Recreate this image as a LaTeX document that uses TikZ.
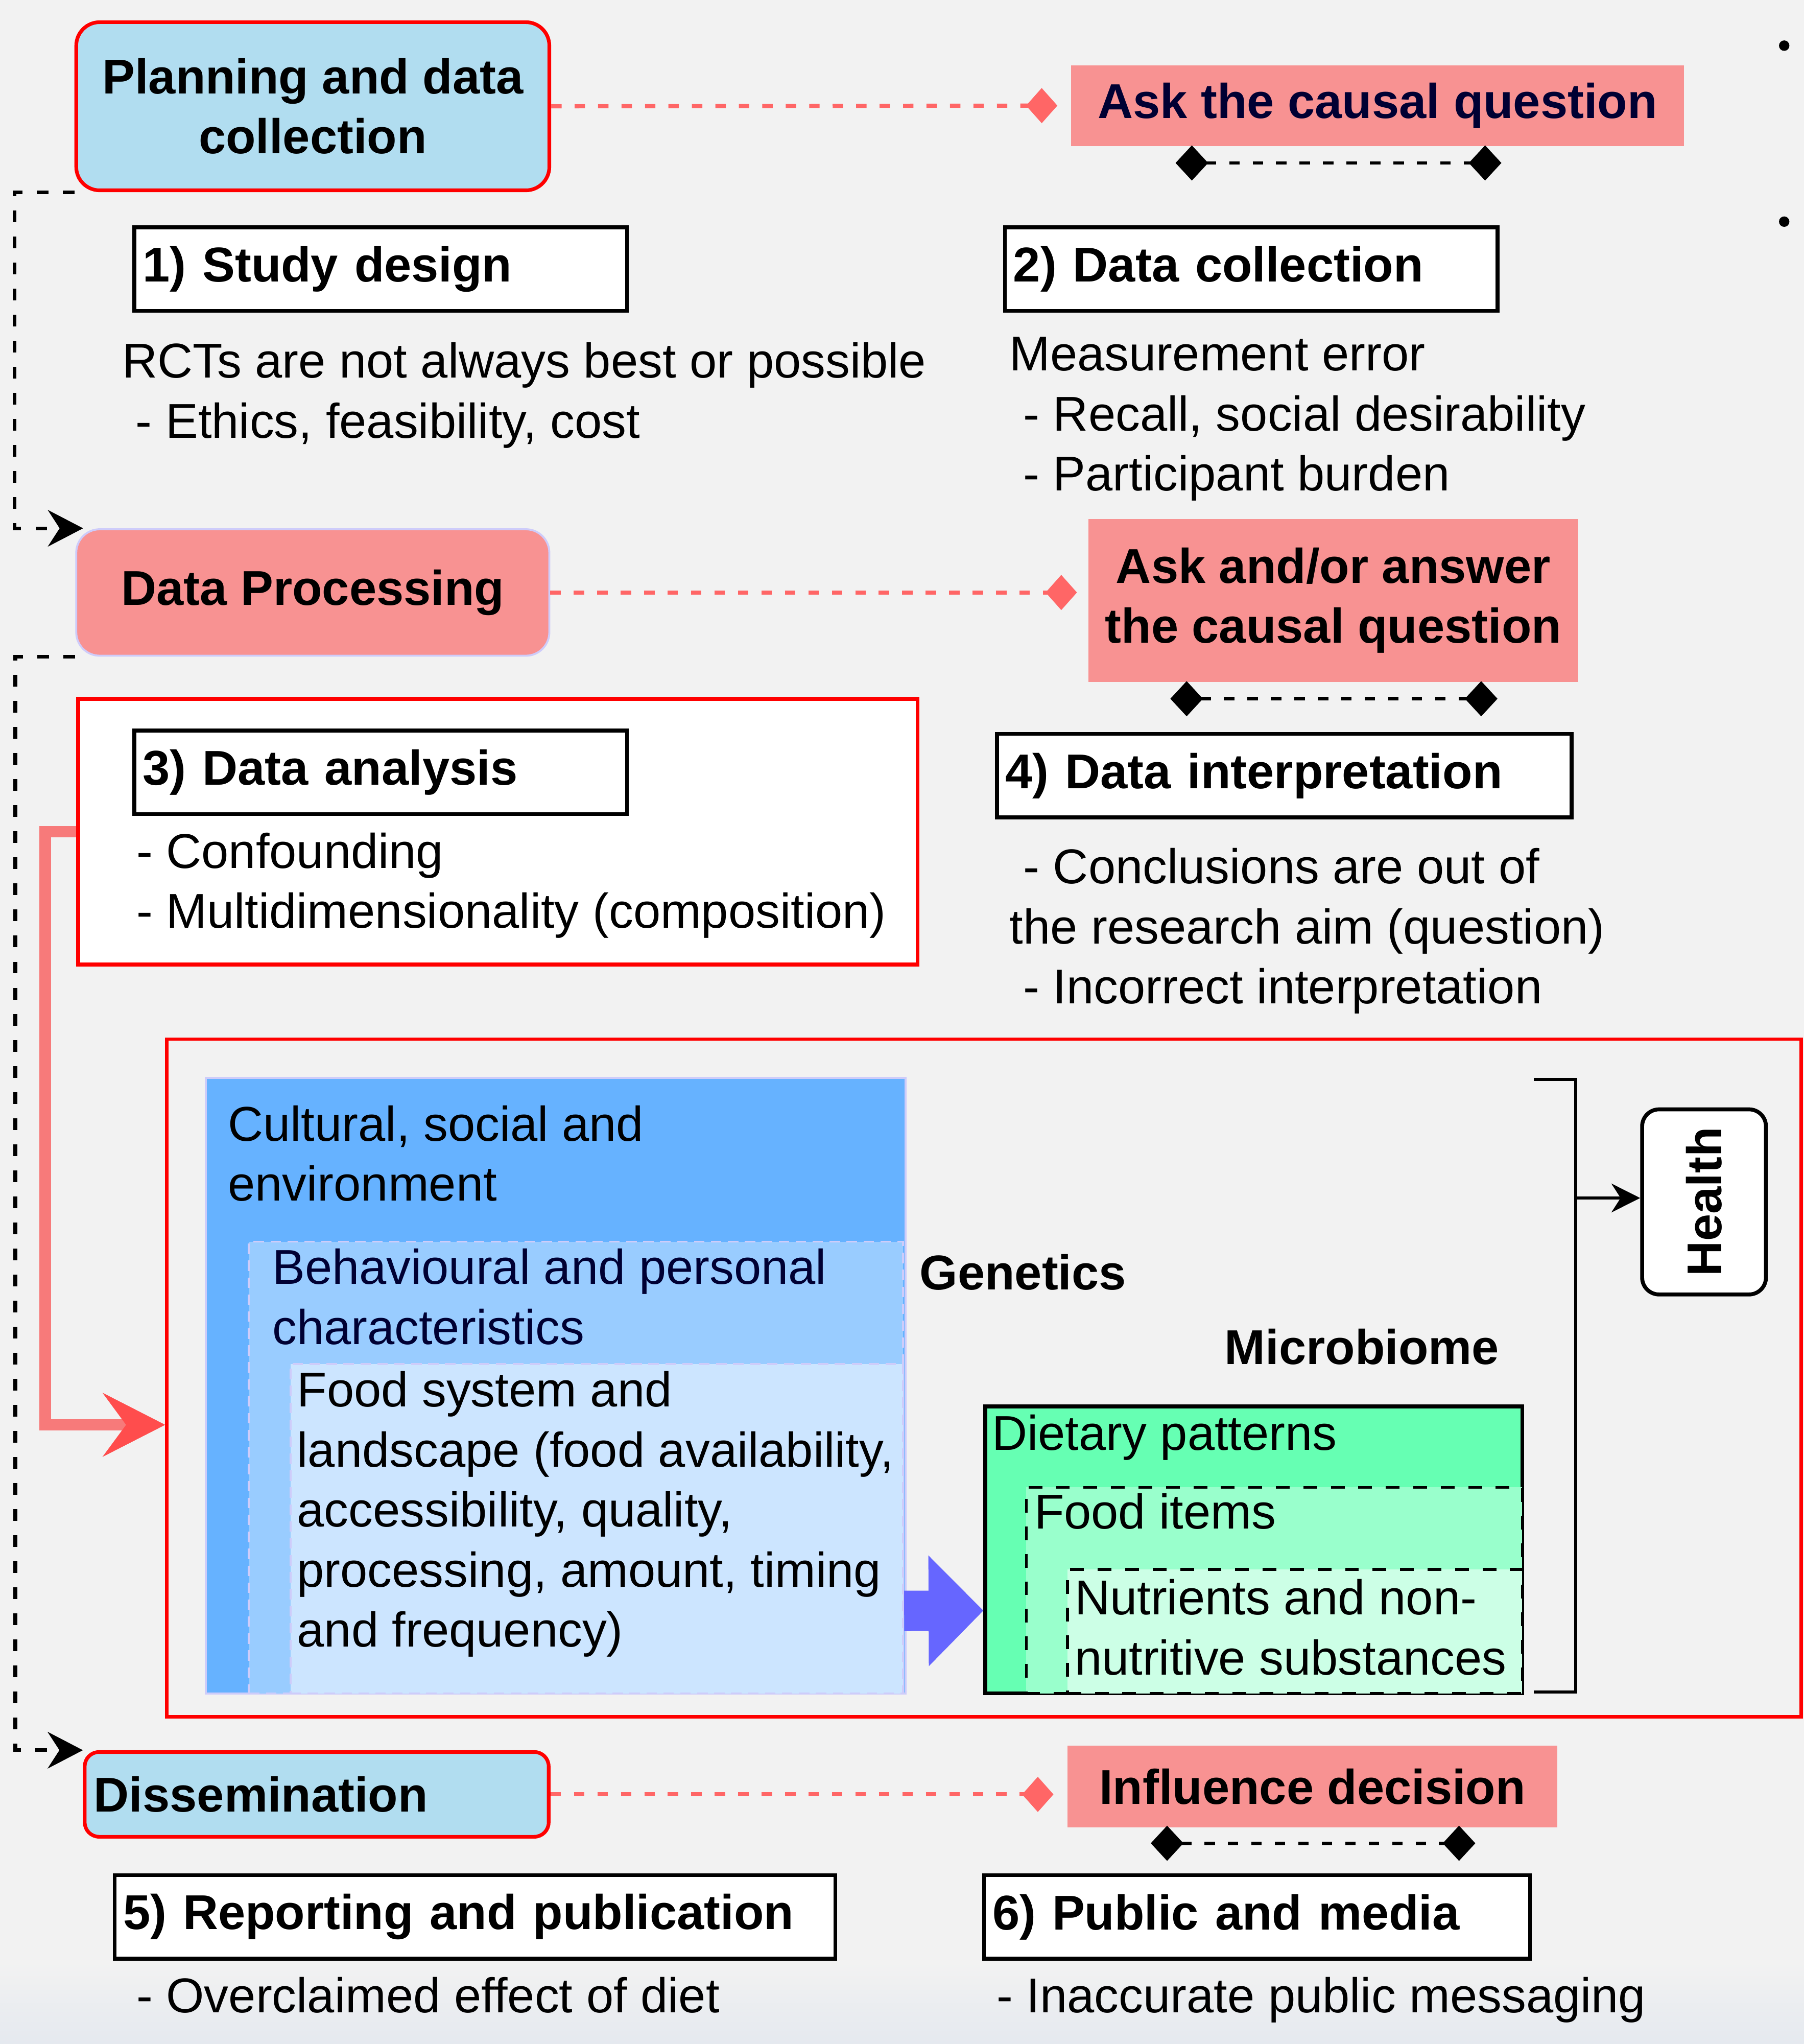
\documentclass[tikz,border=0pt]{standalone}
\usepackage{fontspec}
\usepackage{graphicx}
\setmainfont{Liberation Sans}
\usetikzlibrary{arrows.meta,calc}
\definecolor{pagegray}{RGB}{242,242,242}
\definecolor{pagefoot}{RGB}{229,233,239}
\definecolor{phaseblue}{RGB}{177,221,240}
\definecolor{causalpink}{RGB}{248,146,146}
\definecolor{linkred}{RGB}{255,102,102}
\definecolor{framered}{RGB}{255,0,0}
\definecolor{feedred}{RGB}{247,122,122}
\definecolor{feedhead}{RGB}{255,77,77}
\definecolor{softlilac}{RGB}{206,204,250}
\definecolor{navytext}{RGB}{0,0,51}
\definecolor{layerone}{RGB}{102,178,255}
\definecolor{layertwo}{RGB}{153,204,255}
\definecolor{layerthree}{RGB}{204,229,255}
\definecolor{dietone}{RGB}{102,255,179}
\definecolor{diettwo}{RGB}{153,255,204}
\definecolor{dietthree}{RGB}{204,255,230}
\definecolor{pushblue}{RGB}{102,102,255}
\newcommand{\figfont}{\fontsize{10.67pt}{13.1pt}\selectfont}
\newcommand{\ind}{\hspace*{.28em}}
\tikzset{
  phase/.style={
    draw=framered, line width=.28mm, rounded corners=1.8mm, fill=phaseblue,
    align=center, font=\figfont\bfseries
  },
  procphase/.style={
    draw=softlilac, line width=.15mm, rounded corners=1.8mm, fill=causalpink,
    align=center, font=\figfont\bfseries
  },
  causal/.style={
    draw=none, fill=causalpink, align=center, inner sep=0pt,
    font=\figfont\bfseries
  },
  stagebox/.style={
    draw=black, line width=.3mm, fill=white, minimum height=6.4mm,
    inner xsep=.65mm, align=left, font=\figfont\bfseries
  },
  redframe/.style={draw=framered, line width=.3mm, inner sep=0pt},
  layer/.style={draw=softlilac, line width=.15mm, inner sep=0pt},
  softdash/.style={dash pattern=on .8mm off .5mm},
  dietbox/.style={draw=black, line width=.3mm, inner sep=0pt},
  note/.style={anchor=north west, inner sep=0pt, align=left, font=\figfont},
  tag/.style={anchor=west, inner sep=0pt, font=\figfont\bfseries},
  healthbox/.style={
    draw=black, line width=.3mm, rounded corners=1.3mm, fill=white,
    font=\figfont\bfseries
  },
  aimlink/.style={
    draw=linkred, line width=.32mm, dash pattern=on .8mm off 1mm,
    -{Diamond[length=2.4mm,width=2.7mm,color=linkred]}
  },
  pairlink/.style={
    draw=black, line width=.27mm, dash pattern=on .8mm off 1mm,
    {Diamond[length=2.5mm,width=2.7mm]}-{Diamond[length=2.5mm,width=2.7mm]}
  },
  stepflow/.style={
    draw=black, line width=.28mm, dash pattern=on .9mm off 1.1mm,
    -{Stealth[length=2.7mm,width=2.8mm,inset=.9mm]}
  },
  feedback/.style={
    draw=feedred, line width=.9mm,
    -{Stealth[length=4.8mm,width=4.9mm,inset=1.8mm,color=feedhead,line width=.3mm]}
  },
  push/.style={
    draw=pushblue, line width=3.1mm,
    -{Triangle[length=4.2mm,width=8.5mm,line width=0pt]}
  },
  pointer/.style={
    draw=black, line width=.25mm,
    -{Stealth[length=2.2mm,width=2.2mm,inset=.7mm]}
  }
}

\begin{document}
\begin{tikzpicture}[x=.1mm,y=-.1mm]
  \useasboundingbox (0,0) rectangle (1384,1568);
  % Page background
  \fill[pagegray] (0,0) rectangle (1384,1568);
  \shade[top color=pagegray,bottom color=pagefoot] (0,1505) rectangle (1384,1568);
  \fill (1369,35) circle[radius=.4mm];
  \fill (1369,170) circle[radius=.4mm];

  % Research phases
  \node[phase, minimum width=36.3mm, minimum height=12.9mm] (plan) at (240,81.5)
    {Planning and data\\collection};
  \node[procphase, minimum width=36.3mm, minimum height=9.7mm] (proc) at (240,454.5)
    {Data Processing};
  \node[phase, rounded corners=1.1mm, minimum height=6.5mm, inner xsep=.7mm,
        text width=34.2mm, align=left] (dissem) at (243,1376.5) {Dissemination};

  % Causal aims
  \node[causal, text=navytext, minimum width=47mm, minimum height=6.2mm] (askq)
    at (1057,81) {Ask the causal question};
  \node[causal, minimum width=37.6mm, minimum height=12.5mm] (askans) at (1023,460.5)
    {Ask and/or answer\\the causal question};
  \node[causal, minimum width=37.6mm, minimum height=6.3mm] (sway) at (1007,1370.5)
    {Influence decision};

  % Frames
  \node[redframe, fill=white, minimum width=64.4mm, minimum height=20.4mm] (anaframe)
    at (382,638) {};
  \node[redframe, line width=.25mm, minimum width=125.4mm, minimum height=52mm] (model)
    at (755,1057) {};

  % Steps
  \node[stagebox, text width=36.5mm] (design) at (292,206.5) {1) Study design};
  \node[stagebox, text width=36.5mm] (collect) at (960,206.5) {2) Data collection};
  \node[stagebox, text width=36.5mm] (analyse) at (292,592.5) {3) Data analysis};
  \node[stagebox, text width=42.8mm] (interpret) at (985.5,595) {4) Data interpretation};
  \node[stagebox, text width=54mm] (report) at (364.5,1470.5) {5) Reporting and publication};
  \node[stagebox, text width=40.6mm] (media) at (964.5,1470.5) {6) Public and media};

  % Problems at each step
  \node[note] (designnote) at (93,262)
    {RCTs are not always best or possible\\\ind- Ethics, feasibility, cost};
  \node[note] (collectnote) at (774,258)
    {Measurement error\\\ind- Recall, social desirability\\\ind- Participant burden};
  \node[note] (analysenote) at (104,638)
    {- Confounding\\- Multidimensionality (composition)};
  \node[note] (interpretnote) at (774,650)
    {\ind- Conclusions are out of\\the research aim (question)\\\ind- Incorrect interpretation};
  \node[note] (reportnote) at (104,1516) {- Overclaimed effect of diet};
  \node[note] (medianote) at (764,1516) {- Inaccurate public messaging};

  % Nested determinants
  \node[layer, fill=layerone, minimum width=53.7mm, minimum height=47.2mm] (culture)
    at (426.5,1063) {};
  \node[layer, softdash, fill=layertwo, minimum width=50.2mm, minimum height=34.65mm]
    (behaviour) at (442,1125.75) {};
  \node[layer, softdash, fill=layerthree, minimum width=47mm, minimum height=25.25mm]
    (foodsys) at (458,1172.75) {};
  \node[note] (culturetxt) at ([shift={(17,21)}]culture.north west)
    {Cultural, social and\\environment};
  \node[note, text=navytext] (behaviourtxt) at ([shift={(18,5.5)}]behaviour.north west)
    {Behavioural and personal\\characteristics};
  \node[note] (foodsystxt) at ([shift={(5,5.5)}]foodsys.north west)
    {Food system and\\landscape (food availability,\\accessibility, quality,\\processing, amount, timing\\and frequency)};

  % Nested diet levels
  \node[dietbox, fill=dietone, minimum width=41.2mm, minimum height=22mm] (diet)
    at (962,1189) {};
  \node[dietbox, dashed, line width=.22mm, fill=diettwo, minimum width=38.05mm,
        minimum height=15.8mm] (items) at (977.75,1220) {};
  \node[dietbox, dashed, line width=.22mm, fill=dietthree, minimum width=34.9mm,
        minimum height=9.5mm] (nutrients) at (993.5,1251.5) {};
  \node[note] (diettxt) at ([shift={(6,7)}]diet.north west) {Dietary patterns};
  \node[note] (itemstxt) at ([shift={(6.5,5)}]items.north west) {Food items};
  \node[note] (nutrienttxt) at ([shift={(6,8)}]nutrients.north west)
    {Nutrients and non-\\nutritive substances};

  \node[tag] (genes) at (705,976) {Genetics};
  \node[tag] (microbes) at (939,1033) {Microbiome};
  \node[healthbox, minimum width=9.5mm, minimum height=14.2mm] (health) at (1307.5,922)
    {\rotatebox{90}{Health}};

  % Bracket gathering everything towards health
  \draw[black, line width=.25mm] (1177,828) -| (1209,1298) -- (1177,1298);
  \coordinate (joint) at (1209,919);
  \draw[pointer] (joint) -- (joint -| health.west);

  % Food environment pushes on diet
  \draw[push] ([yshift=-6.3mm]foodsys.east) -- ([yshift=-4.65mm]diet.west);

  % Phase to causal aim
  \draw[aimlink] (plan.east) -- ([xshift=-1mm]askq.west);
  \draw[aimlink] (proc.east) -- ($(proc.east -| askans.west)+(-8,0)$);
  \draw[aimlink] (dissem.east) -- ($(dissem.east -| sway.west)+(-10,0)$);

  % Aims linked to their two steps
  \coordinate (askqL) at (902,125);
  \coordinate (askqR) at (1152,125);
  \coordinate (askansL) at (898,536);
  \coordinate (askansR) at (1149,536);
  \coordinate (swayL) at (883,1414);
  \coordinate (swayR) at (1132,1414);
  \draw[pairlink] (askqL) -- (askqR);
  \draw[pairlink] (askansL) -- (askansR);
  \draw[pairlink] (swayL) -- (swayR);

  % Phase order
  \draw[stepflow] (plan.south west) -- ++(-46,0) |- ([xshift=.6mm]proc.north west);
  \draw[stepflow] (proc.south west) -- ++(-46,0) |- (dissem.north west);

  % Analysis feeds the model
  \draw[feedback] (anaframe.west) -- ++(-24,0) |- ([yshift=-3.6mm]model.west);
\end{tikzpicture}
\end{document}
